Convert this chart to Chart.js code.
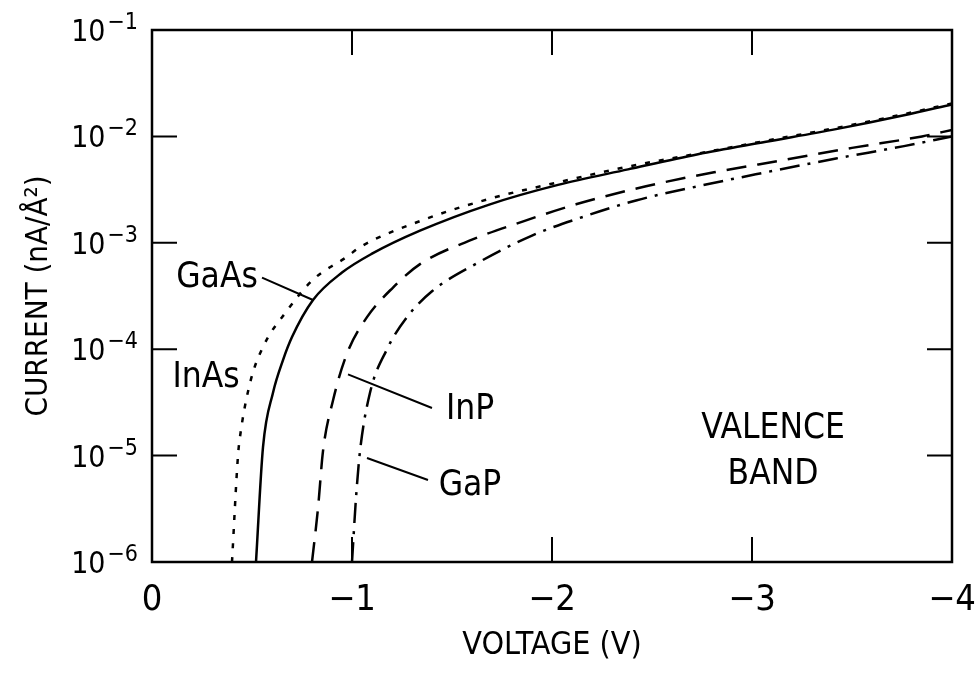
<!DOCTYPE html>
<html>
<head>
<meta charset="utf-8">
<script src="https://cdn.jsdelivr.net/npm/chart.js@4"></script>
<style>
  html, body { margin: 0; background: #fff; }
</style>
</head>
<body>
<canvas id="chart" width="979" height="673"></canvas>
<script>
const FONT = "'Liberation Sans Narrow', 'DejaVu Sans Condensed', sans-serif";

// voltage (V) / current (nA/A^2)
const inasV = [-0.40, -0.43, -0.44, -0.49, -0.555, -0.675, -0.805, -0.975, -1.04, -1.34, -1.69, -2.03, -2.38, -2.73, -3.07, -3.42, -3.76, -4.0];
const inasI = [1.0e-6, 1.0e-5, 1.5e-5, 4.8e-5, 1.05e-4, 2.3e-4, 4.5e-4, 7.4e-4, 9.1e-4, 1.6e-3, 2.6e-3, 3.7e-3, 5.2e-3, 6.9e-3, 9.1e-3, 1.2e-2, 1.62e-2, 2.04e-2];

const gaasV = [-0.52, -0.555, -0.605, -0.655, -0.70, -0.805, -0.95, -1.1, -1.34, -1.69, -2.03, -2.38, -2.73, -3.07, -3.42, -3.76, -4.0];
const gaasI = [1.0e-6, 1.2e-5, 3.9e-5, 7.9e-5, 1.3e-4, 2.9e-4, 5.25e-4, 7.9e-4, 1.3e-3, 2.3e-3, 3.5e-3, 4.9e-3, 6.8e-3, 8.9e-3, 1.17e-2, 1.58e-2, 2.0e-2];

const inpV = [-0.80, -0.83, -0.855, -0.905, -0.975, -1.075, -1.205, -1.34, -1.60, -1.86, -2.12, -2.47, -2.81, -3.16, -3.50, -3.85, -4.0];
const inpI = [1.0e-6, 3.2e-6, 1.1e-5, 3.3e-5, 9.1e-5, 2.0e-4, 3.8e-4, 6.3e-4, 1.07e-3, 1.6e-3, 2.3e-3, 3.4e-3, 4.6e-3, 6.0e-3, 7.8e-3, 1.0e-2, 1.15e-2];

const gapV = [-1.0, -1.02, -1.04, -1.09, -1.175, -1.275, -1.40, -1.63, -1.90, -2.15, -2.42, -2.73, -3.07, -3.42, -3.76, -4.0];
const gapI = [1.0e-6, 4.0e-6, 1.1e-5, 3.9e-5, 1.0e-4, 2.0e-4, 3.5e-4, 6.5e-4, 1.17e-3, 1.74e-3, 2.5e-3, 3.4e-3, 4.6e-3, 6.2e-3, 8.1e-3, 1.0e-2];

const xTicks = [0, -1, -2, -3, -4];
const yTicks = [1e-6, 1e-5, 1e-4, 1e-3, 1e-2, 1e-1];
const yExps = [-6, -5, -4, -3, -2, -1];

// curve names placed in data coordinates
const notes = [
  { text: 'GaAs', v: -0.325, i: 4.7e-4 },
  { text: 'InAs', v: -0.27, i: 5.4e-5 },
  { text: 'InP', v: -1.59, i: 2.7e-5 },
  { text: 'GaP', v: -1.59, i: 5.2e-6 },
  { text: 'VALENCE', v: -3.105, i: 1.8e-5 },
  { text: 'BAND', v: -3.105, i: 6.6e-6 },
];
const leaders = [
  [-0.55, 4.7e-4, -0.805, 2.9e-4],
  [-0.98, 5.8e-5, -1.40, 2.8e-5],
  [-1.075, 9.5e-6, -1.38, 5.9e-6],
];

function pts(xs, ys) {
  return xs.map((v, k) => ({ x: v, y: ys[k] }));
}

const TICK = 25;

const frame = {
  id: 'frame',
  afterDatasetsDraw(chart) {
    const { ctx, chartArea: a, scales: { x, y } } = chart;
    ctx.save();
    ctx.strokeStyle = '#000';
    ctx.fillStyle = '#000';
    ctx.lineWidth = 2.5;
    ctx.strokeRect(a.left, a.top, a.right - a.left, a.bottom - a.top);

    ctx.lineWidth = 2;
    ctx.beginPath();
    xTicks.forEach((v) => {
      const px = x.getPixelForValue(v);
      ctx.moveTo(px, a.bottom); ctx.lineTo(px, a.bottom - TICK);
      ctx.moveTo(px, a.top); ctx.lineTo(px, a.top + TICK);
    });
    yTicks.forEach((v) => {
      const py = y.getPixelForValue(v);
      ctx.moveTo(a.left, py); ctx.lineTo(a.left + TICK, py);
      ctx.moveTo(a.right, py); ctx.lineTo(a.right - TICK, py);
    });
    leaders.forEach((l) => {
      ctx.moveTo(x.getPixelForValue(l[0]), y.getPixelForValue(l[1]));
      ctx.lineTo(x.getPixelForValue(l[2]), y.getPixelForValue(l[3]));
    });
    ctx.stroke();

    // y tick labels: 10 with raised exponent
    ctx.textAlign = 'right';
    ctx.textBaseline = 'alphabetic';
    yTicks.forEach((v, k) => {
      const py = y.getPixelForValue(v);
      const exp = '\u2212' + Math.abs(yExps[k]);
      ctx.font = '23px ' + FONT;
      const ew = ctx.measureText(exp).width;
      ctx.fillText(exp, a.left - 14, py - 1);
      ctx.font = '30px ' + FONT;
      ctx.fillText('10', a.left - 16 - ew, py + 11);
    });

    ctx.textAlign = 'center';
    ctx.textBaseline = 'middle';
    ctx.font = '35px ' + FONT;
    notes.forEach((n) => {
      ctx.fillText(n.text, x.getPixelForValue(n.v), y.getPixelForValue(n.i));
    });
    ctx.restore();
  },
};

const line = (label, xs, ys, dash) => ({
  label,
  data: pts(xs, ys),
  borderColor: '#000',
  borderWidth: 2.5,
  borderDash: dash,
  pointRadius: 0,
  cubicInterpolationMode: 'monotone',
  fill: false,
});

new Chart(document.getElementById('chart'), {
  type: 'line',
  data: {
    datasets: [
      line('InAs', inasV, inasI, [5, 9]),
      line('GaAs', gaasV, gaasI, []),
      line('InP', inpV, inpI, [20, 11]),
      line('GaP', gapV, gapI, [20, 8, 3, 8]),
    ],
  },
  options: {
    responsive: false,
    animation: false,
    devicePixelRatio: 1,
    layout: { padding: { top: 30, right: 27, left: 0, bottom: 0 } },
    plugins: { legend: { display: false }, tooltip: { enabled: false } },
    scales: {
      x: {
        type: 'linear',
        reverse: true,
        min: -4,
        max: 0,
        afterBuildTicks: (s) => { s.ticks = xTicks.map((v) => ({ value: v })); },
        afterFit: (s) => { s.height = 111; s.paddingLeft = 0; s.paddingRight = 0; },
        grid: { display: false },
        border: { display: false },
        ticks: {
          color: '#000',
          padding: 9,
          font: { family: FONT, size: 36 },
          maxRotation: 0,
          callback: (v) => (v === 0 ? '0' : '\u2212' + Math.abs(v)),
        },
        title: {
          display: true,
          text: 'VOLTAGE (V)',
          color: '#000',
          font: { family: FONT, size: 32 },
          padding: { top: 0, bottom: 8 },
        },
      },
      y: {
        type: 'logarithmic',
        min: 1e-6,
        max: 1e-1,
        afterBuildTicks: (s) => { s.ticks = yTicks.map((v) => ({ value: v })); },
        afterFit: (s) => { s.width = 152; s.paddingTop = 0; s.paddingBottom = 0; },
        grid: { display: false },
        border: { display: false },
        ticks: { display: false },
        title: {
          display: true,
          text: 'CURRENT (nA/\u00c5\u00b2)',
          color: '#000',
          font: { family: FONT, size: 31 },
          padding: { top: 20, bottom: 0 },
        },
      },
    },
  },
  plugins: [frame],
});
</script>
</body>
</html>
